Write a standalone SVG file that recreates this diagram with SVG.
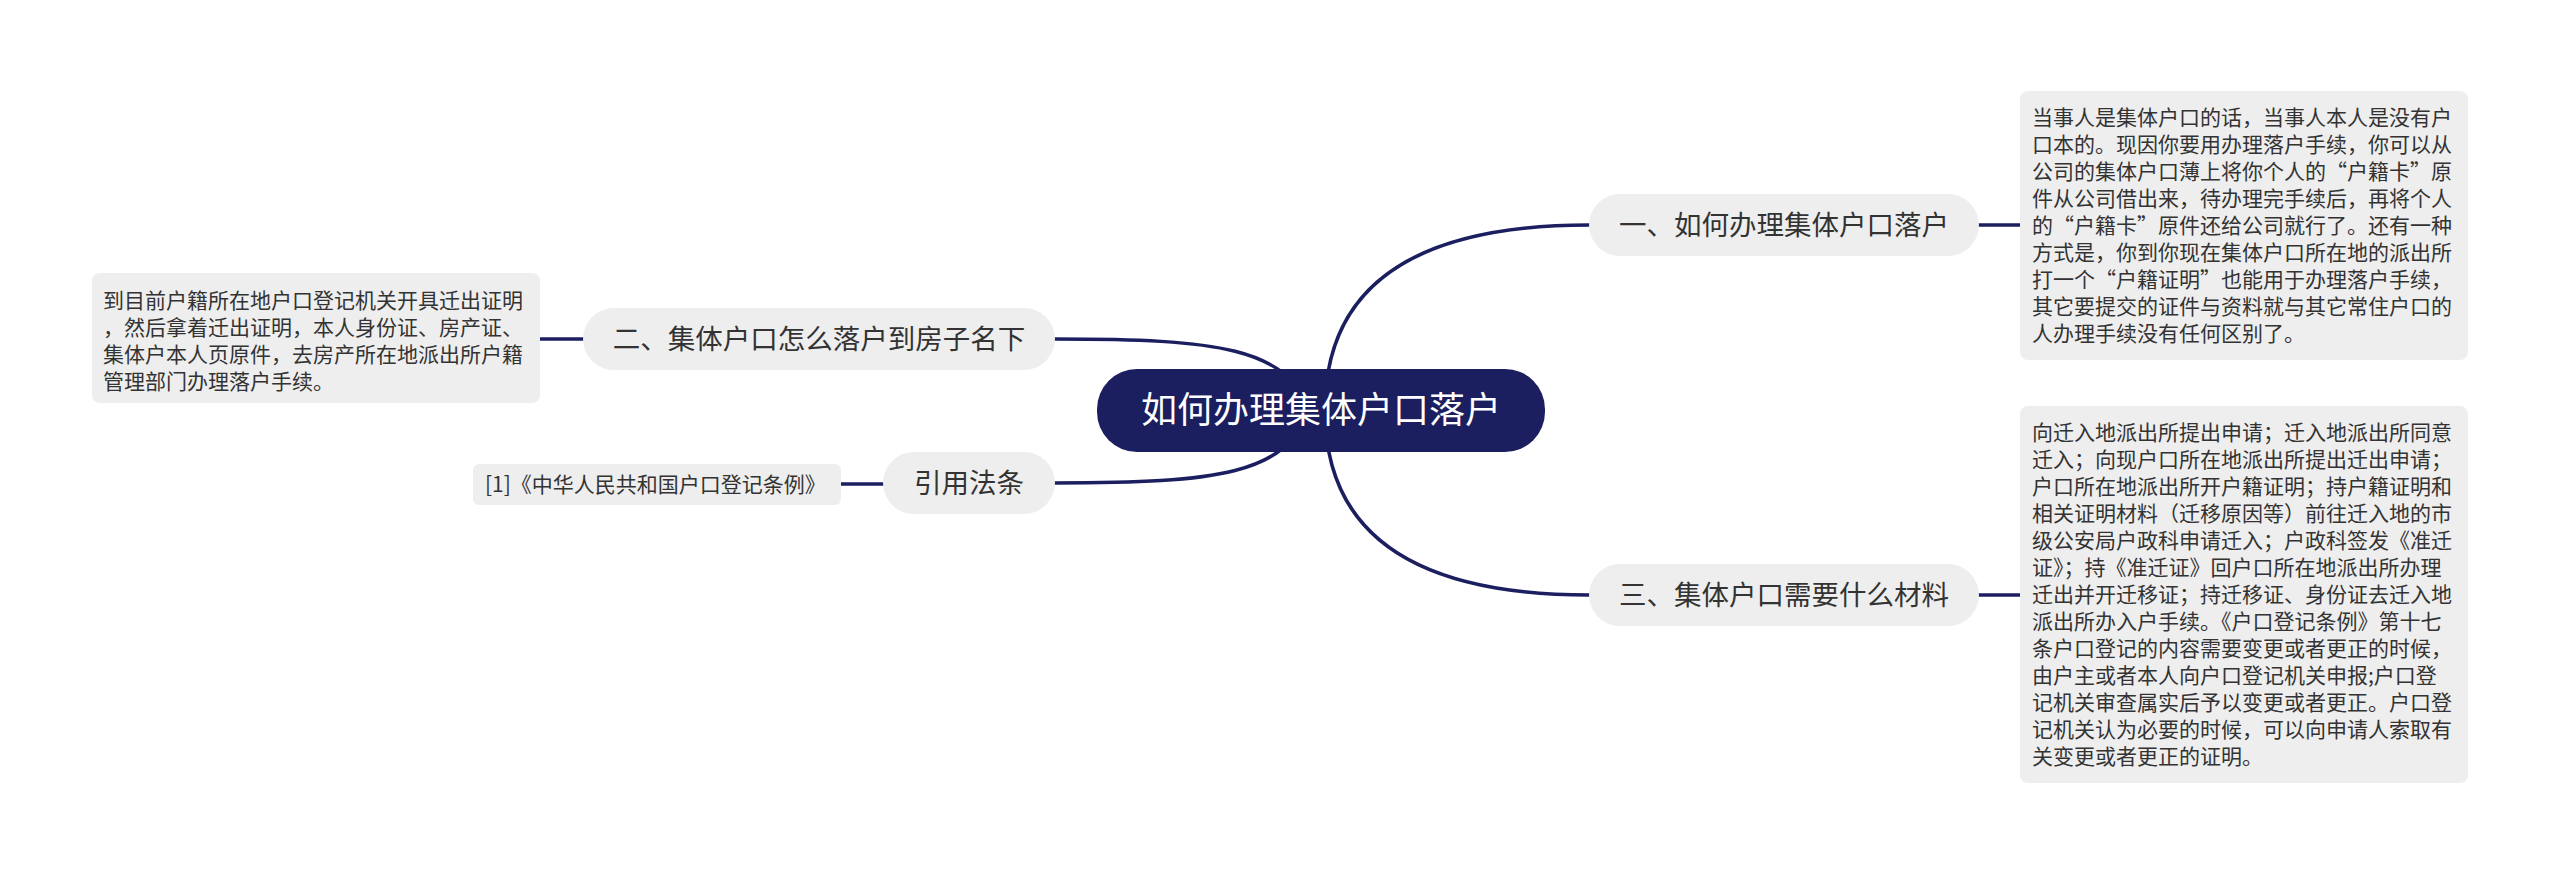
<svg xmlns="http://www.w3.org/2000/svg" width="2560" height="876" viewBox="0 0 2560 876">
<style>
.c{fill:none;stroke:#1b1f5f;stroke-width:3.5;stroke-linecap:round}
.sub{fill:#eeeeee}
.leaf{fill:#eeeeee}
.st{font-family:"Noto Sans CJK SC","Noto Sans",sans-serif;font-size:27.5px;fill:#333333;text-anchor:middle}
.lt{font-family:"Noto Sans CJK SC","Noto Sans",sans-serif;font-size:21px;fill:#333333}
.rt{font-family:"Noto Sans CJK SC","Noto Sans",sans-serif;font-size:36px;fill:#ffffff;text-anchor:middle}
</style>
<rect width="2560" height="876" fill="#ffffff"/>
<g id="connectors">
<path class="c" d="M1325,410 Q1325,225 1589,225"/>
<path class="c" d="M1325,410 Q1325,595 1589,595"/>
<path class="c" d="M1055,339 C1220,339 1285,348 1310,410"/>
<path class="c" d="M1055,483 C1220,483 1285,474 1310,410"/>
<path class="c" d="M1979,225 L2020,225"/>
<path class="c" d="M1979,595 L2020,595"/>
<path class="c" d="M583,339 L540,339"/>
<path class="c" d="M883,484 L841,484"/>
</g>
<g id="root">
<rect x="1097" y="369" width="448" height="83" rx="40" fill="#1b1f5f"/>
<text class="rt" x="1321" y="423">如何办理集体户口落户</text>
</g>
<g id="n1">
<rect class="sub" x="1589" y="194" width="390" height="62" rx="31"/>
<text class="st" x="1784" y="235">一、如何办理集体户口落户</text>
</g>
<g id="n3">
<rect class="sub" x="1589" y="564" width="390" height="62" rx="31"/>
<text class="st" x="1784" y="605">三、集体户口需要什么材料</text>
</g>
<g id="n2">
<rect class="sub" x="583" y="308" width="472" height="62" rx="31"/>
<text class="st" x="819" y="349">二、集体户口怎么落户到房子名下</text>
</g>
<g id="n4">
<rect class="sub" x="883" y="452" width="172" height="62" rx="31"/>
<text class="st" x="969" y="493">引用法条</text>
</g>
<g id="leaf1">
<rect class="leaf" x="2020" y="91" width="448" height="269" rx="8"/>
<text class="lt" x="2032" y="125">
<tspan x="2032" y="125">当事人是集体户口的话，当事人本人是没有户</tspan>
<tspan x="2032" y="152">口本的。现因你要用办理落户手续，你可以从</tspan>
<tspan x="2032" y="179">公司的集体户口薄上将你个人的“户籍卡”原</tspan>
<tspan x="2032" y="206">件从公司借出来，待办理完手续后，再将个人</tspan>
<tspan x="2032" y="233">的“户籍卡”原件还给公司就行了。还有一种</tspan>
<tspan x="2032" y="260">方式是，你到你现在集体户口所在地的派出所</tspan>
<tspan x="2032" y="287">打一个“户籍证明”也能用于办理落户手续，</tspan>
<tspan x="2032" y="314">其它要提交的证件与资料就与其它常住户口的</tspan>
<tspan x="2032" y="341">人办理手续没有任何区别了。</tspan>
</text>
</g>
<g id="leaf3">
<rect class="leaf" x="2020" y="406" width="448" height="377" rx="8"/>
<text class="lt">
<tspan x="2032" y="440">向迁入地派出所提出申请；迁入地派出所同意</tspan>
<tspan x="2032" y="467">迁入；向现户口所在地派出所提出迁出申请；</tspan>
<tspan x="2032" y="494">户口所在地派出所开户籍证明；持户籍证明和</tspan>
<tspan x="2032" y="521">相关证明材料（迁移原因等）前往迁入地的市</tspan>
<tspan x="2032" y="548">级公安局户政科申请迁入；户政科签发《准迁</tspan>
<tspan x="2032" y="575">证》；持《准迁证》回户口所在地派出所办理</tspan>
<tspan x="2032" y="602">迁出并开迁移证；持迁移证、身份证去迁入地</tspan>
<tspan x="2032" y="629">派出所办入户手续。《户口登记条例》第十七</tspan>
<tspan x="2032" y="656">条户口登记的内容需要变更或者更正的时候，</tspan>
<tspan x="2032" y="683">由户主或者本人向户口登记机关申报;户口登</tspan>
<tspan x="2032" y="710">记机关审查属实后予以变更或者更正。户口登</tspan>
<tspan x="2032" y="737">记机关认为必要的时候，可以向申请人索取有</tspan>
<tspan x="2032" y="764">关变更或者更正的证明。</tspan>
</text>
</g>
<g id="leaf2">
<rect class="leaf" x="92" y="273" width="448" height="130" rx="8"/>
<text class="lt">
<tspan x="103" y="308">到目前户籍所在地户口登记机关开具迁出证明</tspan>
<tspan x="103" y="335">，然后拿着迁出证明，本人身份证、房产证、</tspan>
<tspan x="103" y="362">集体户本人页原件，去房产所在地派出所户籍</tspan>
<tspan x="103" y="389">管理部门办理落户手续。</tspan>
</text>
</g>
<g id="leaf4">
<rect class="leaf" x="473" y="464" width="368" height="41" rx="6"/>
<text class="lt" x="485" y="492">[1]《中华人民共和国户口登记条例》</text>
</g>
</svg>
